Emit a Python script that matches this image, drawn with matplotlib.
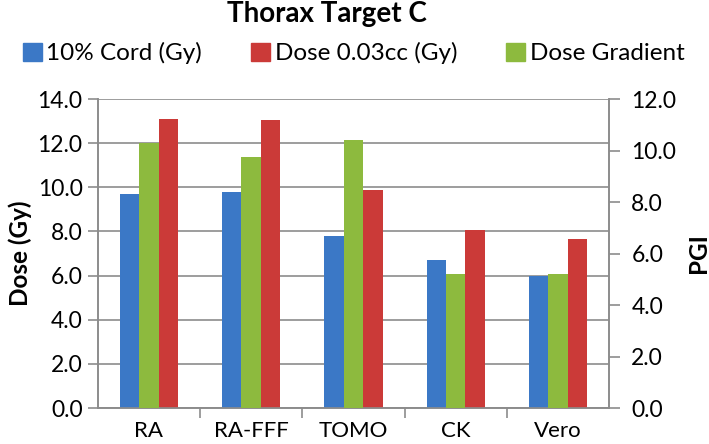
import numpy as np
import matplotlib
matplotlib.use('Agg')
from matplotlib import pyplot as plt
from matplotlib.patches import Patch

plt.rcParams['font.family'] = ['Lato', 'DejaVu Sans']

# Data
systems = ['RA', 'RA-FFF', 'TOMO', 'CK', 'Vero']
cord_10pct = [9.7, 9.8, 7.8, 6.7, 6.0]        # Gy, left axis
dose_003cc = [13.1, 13.05, 9.9, 8.05, 7.65]   # Gy, left axis
dose_gradient = [10.3, 9.75, 10.4, 5.2, 5.2]  # PGI, right axis

blue = '#3b78c6'
red = '#cb3a38'
green = '#8dba3e'
grey = '#8c8c8c'

fig = plt.figure(figsize=(7.09, 4.44), dpi=100)
ax = fig.add_axes([0.138, 0.081, 0.721, 0.696])
ax2 = ax.twinx()

x = np.arange(len(systems))
w = 0.19
ax.bar(x - w, cord_10pct, w, color=blue, zorder=3)
ax.bar(x + w, dose_003cc, w, color=red, zorder=3)
ax2.bar(x, dose_gradient, w, color=green, zorder=3)

ax.set_xlim(-0.5, len(systems) - 0.5)
ax.set_ylim(0, 14)
ax2.set_ylim(0, 12)
ax.set_yticks(np.arange(0, 14.1, 2))
ax2.set_yticks(np.arange(0, 12.1, 2))
ax.set_yticklabels([f'{v:.1f}' for v in np.arange(0, 14.1, 2)])
ax2.set_yticklabels([f'{v:.1f}' for v in np.arange(0, 12.1, 2)])
ax.grid(axis='y', color=grey, linewidth=1.2, zorder=0)
ax.set_axisbelow(True)

ax.set_xticks(x)
ax.set_xticklabels(systems)
ax.set_xticks(np.arange(0.5, len(systems) - 0.5, 1), minor=True)
ax.tick_params(axis='x', which='major', length=0, pad=9, labelsize=16)
ax.tick_params(axis='x', which='minor', length=7, color=grey, width=1.2)
ax.tick_params(axis='y', length=7, color=grey, width=1.2, labelsize=16.5, pad=4)
ax2.tick_params(axis='y', length=8, color=grey, width=1.2, labelsize=16.5, pad=8)

for a in (ax, ax2):
    a.spines['top'].set_visible(False)
    for s in ('left', 'right', 'bottom'):
        a.spines[s].set_color(grey)
        a.spines[s].set_linewidth(1.2)

ax.set_ylabel('Dose (Gy)', fontsize=17.5, fontweight='bold', labelpad=4)
ax2.set_ylabel('PGI', fontsize=17.5, fontweight='bold', rotation=90, labelpad=8)

fig.text(0.461, 0.968, 'Thorax Target C', ha='center', va='center',
         fontsize=20, fontweight='bold')

handles = [Patch(color=blue), Patch(color=red), Patch(color=green)]
labels = ['10% Cord (Gy)', 'Dose 0.03cc (Gy)', 'Dose Gradient']
fig.legend(handles, labels, loc='center', bbox_to_anchor=(0.4986, 0.88), ncol=3,
           frameon=False, fontsize=17.5, handlelength=0.78, handleheight=0.78,
           handletextpad=0.2, columnspacing=2.0, borderpad=0, borderaxespad=0)

fig.savefig('out.png', dpi=100)
